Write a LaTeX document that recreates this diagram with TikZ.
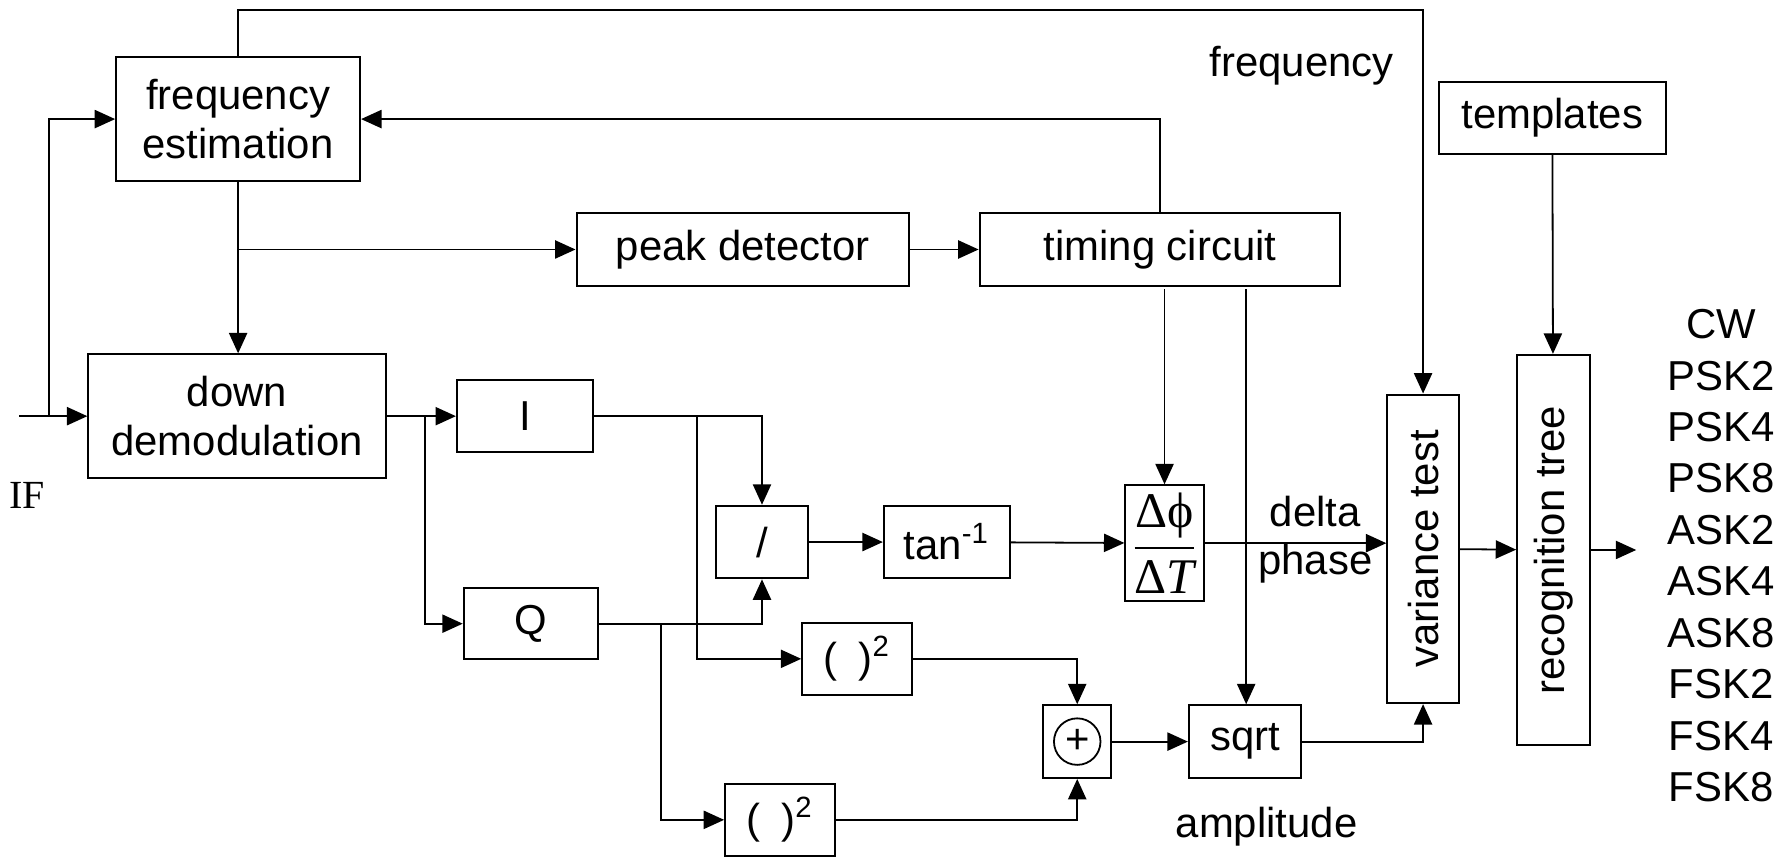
\documentclass[tikz,border=0pt]{standalone}
\usepackage{amsmath}
\usepackage{graphicx}
\usepackage{fontspec}
\setmainfont{Liberation Sans}
\newfontfamily\timesfont{Liberation Serif}
\usetikzlibrary{arrows.meta}

\tikzset{
  blk/.style={draw, line width=0.5pt, inner sep=0pt, align=center},
  lbl/.style={inner sep=0pt, align=center},
}

\begin{document}
\begin{tikzpicture}[x=0.01cm, y=-0.01cm, >={Triangle[length=1.8mm,width=1.6mm]}, line width=0.45pt, font=\fontsize{10.5pt}{12.2pt}\selectfont]
\useasboundingbox (0,0) rectangle (1568,756);

\node[name=freq_est, blk, minimum width=2.15cm, minimum height=1.09cm] at (210,105) {frequency\\estimation};
\node[name=demod, blk, minimum width=2.62cm, minimum height=1.09cm] at (209,367) {down\\demodulation};
\node[name=peak, blk, minimum width=2.93cm, minimum height=0.64cm] at (655,220) {peak detector};
\node[name=timing, blk, minimum width=3.18cm, minimum height=0.64cm] at (1023,220) {timing circuit};
\node[name=templates, blk, minimum width=2.0cm, minimum height=0.63cm] at (1369,104) {templates};
\node[name=i_box, blk, minimum width=1.2cm, minimum height=0.64cm] at (463,367) {I};
\node[name=q_box, blk, minimum width=1.18cm, minimum height=0.63cm] at (468,550) {Q};
\node[name=div, blk, minimum width=0.81cm, minimum height=0.64cm] at (672,478) {/};
\node[name=atan, blk, minimum width=1.11cm, minimum height=0.64cm] at (835,478) {tan\textsuperscript{-1}};
\node[name=dphase, blk, minimum width=0.69cm, minimum height=1.02cm, font=\timesfont\fontsize{12.5pt}{14pt}\selectfont] at (1027,479) {$\dfrac{\text{Δϕ}}{\text{Δ\itshape T}}$};
\node[name=sq_i, blk, minimum width=0.97cm, minimum height=0.64cm] at (756,581) {(\hspace{0.5em})\textsuperscript{2}};
\node[name=sq_q, blk, minimum width=0.97cm, minimum height=0.64cm] at (688,723) {(\hspace{0.5em})\textsuperscript{2}};
\node[name=sum, blk, minimum width=0.6cm, minimum height=0.64cm] at (950,654) {};
\node[name=sum_c, circle, draw, minimum size=0.41cm, inner sep=0pt] at (sum) {+};
\node[name=sqrt_box, blk, minimum width=0.99cm, minimum height=0.64cm] at (1098,654) {sqrt};
\node[name=variance, blk, minimum width=0.63cm, minimum height=2.72cm] at (1255,484) {\rotatebox{90}{variance test}};
\node[name=recog, blk, minimum width=0.64cm, minimum height=3.44cm] at (1370,485) {\rotatebox{90}{recognition tree}};

\node[name=if_lbl, lbl, font=\timesfont\fontsize{10pt}{12pt}\selectfont] at (24,437) {IF};
\node[name=freq_lbl, lbl] at (1148,58) {frequency};
\node[name=dp_lbl, lbl] at (1160,476) {delta\\phase};
\node[name=amp_lbl, lbl] at (1117,729) {amplitude};
\node[name=classes, lbl, font=\fontsize{10.5pt}{12.9pt}\selectfont] at (1518,490) {CW\\PSK2\\PSK4\\PSK8\\ASK2\\ASK4\\ASK8\\FSK2\\FSK4\\FSK8};

\coordinate (if_in) at (17,367);
\coordinate (if_split) at (43,367);
\coordinate (fe_split) at (210,220);
\coordinate (top_l) at (210,9);
\coordinate (t_dp) at (1027,255);
\coordinate (t_sq) at (1099,255);
\coordinate (d_split) at (375,367);
\coordinate (i_split) at (615,367);
\coordinate (q_split) at (583,550);
\coordinate (out_end) at (1443,485);

\draw[->] (if_in) -- (demod.west);
\draw[->] (if_split) |- (freq_est.west);
\draw[->] (freq_est.south) -- (freq_est.south |- demod.north);
\draw[->] (fe_split) -- (peak.west);
\draw[->] (peak) -- (timing);
\draw[->] (timing.north) |- (freq_est.east);
\draw[->] (freq_est.north) -- (top_l) -| (variance.north);
\draw[->] (t_dp) -- (dphase.north);
\draw[->] (t_sq) -- (t_sq |- sqrt_box.north);
\draw[->] (demod.east) -- (i_box.west);
\draw[->] (d_split) |- (q_box.west);
\draw[->] (i_box.east) -| (div.north);
\draw[->] (i_split) |- (sq_i.west);
\draw[->] (q_box.east) -| (div.south);
\draw[->] (q_split) |- (sq_q.west);
\draw[->] (div) -- (atan);
\draw[->] (atan) -- (dphase);
\draw[->] (dphase.east) -- (dphase.east -| variance.west);
\draw[->] (sq_i.east) -| (sum.north);
\draw[->] (sq_q.east) -| (sum.south);
\draw[->] (sum) -- (sqrt_box);
\draw[->] (sqrt_box.east) -| (variance.south);
\draw[->] (variance) -- (recog);
\draw[->] (templates) -- (recog);
\draw[->] (recog) -- (out_end);

\end{tikzpicture}
\end{document}
